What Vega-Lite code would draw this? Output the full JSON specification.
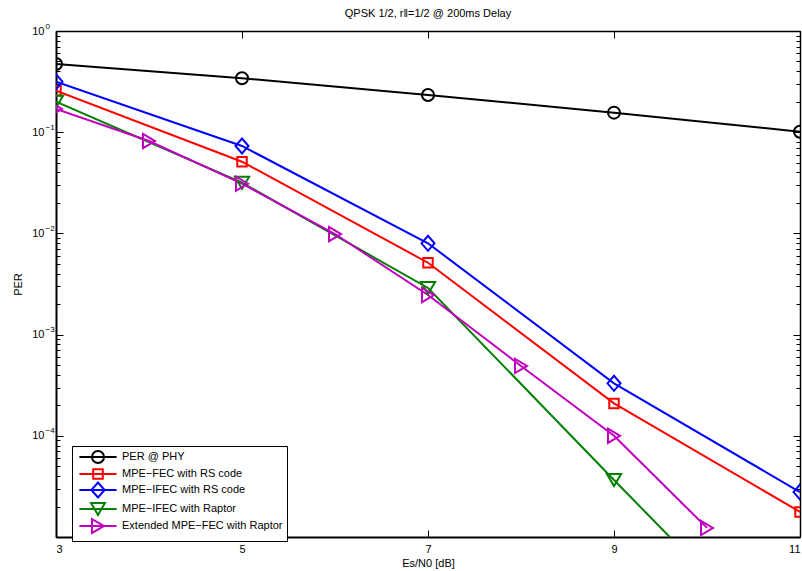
{
  "$schema": "https://vega.github.io/schema/vega-lite/v6.json",
  "width": 744,
  "height": 506,
  "autosize": {"type": "none"},
  "padding": {"left": 56, "top": 31, "right": 2, "bottom": 34},
  "background": "white",
  "config": {
    "view": {"stroke": null},
    "font": "Liberation Sans",
    "axis": {
      "grid": false,
      "domainColor": "black",
      "tickColor": "black",
      "labelColor": "black",
      "titleColor": "black",
      "labelFont": "Liberation Sans",
      "titleFont": "Liberation Sans",
      "labelFontSize": 11,
      "titleFontSize": 11,
      "titleFontWeight": "normal"
    }
  },
  "title": {
    "text": "QPSK 1/2, r\u2016=1/2 @ 200ms Delay",
    "font": "Liberation Sans",
    "fontSize": 11,
    "fontWeight": "normal",
    "color": "black",
    "anchor": "middle",
    "offset": 3
  },
  "data": {
    "values": [
      {"x": 3, "per": 0.472, "series": "PER @ PHY"},
      {"x": 5, "per": 0.341, "series": "PER @ PHY"},
      {"x": 7, "per": 0.233, "series": "PER @ PHY"},
      {"x": 9, "per": 0.156, "series": "PER @ PHY"},
      {"x": 11, "per": 0.101, "series": "PER @ PHY"},
      {"x": 3, "per": 0.257, "series": "MPE\u2212FEC with RS code"},
      {"x": 5, "per": 0.0511, "series": "MPE\u2212FEC with RS code"},
      {"x": 7, "per": 0.00513, "series": "MPE\u2212FEC with RS code"},
      {"x": 9, "per": 0.000209, "series": "MPE\u2212FEC with RS code"},
      {"x": 11, "per": 0.0000177, "series": "MPE\u2212FEC with RS code"},
      {"x": 3, "per": 0.315, "series": "MPE\u2212IFEC with RS code"},
      {"x": 5, "per": 0.0731, "series": "MPE\u2212IFEC with RS code"},
      {"x": 7, "per": 0.00798, "series": "MPE\u2212IFEC with RS code"},
      {"x": 9, "per": 0.00033, "series": "MPE\u2212IFEC with RS code"},
      {"x": 11, "per": 0.0000278, "series": "MPE\u2212IFEC with RS code"},
      {"x": 3, "per": 0.2, "series": "MPE\u2212IFEC with Raptor"},
      {"x": 5, "per": 0.0317, "series": "MPE\u2212IFEC with Raptor"},
      {"x": 7, "per": 0.00289, "series": "MPE\u2212IFEC with Raptor"},
      {"x": 9, "per": 0.0000366, "series": "MPE\u2212IFEC with Raptor"},
      {"x": 10, "per": 0.0000042, "series": "MPE\u2212IFEC with Raptor"},
      {"x": 3, "per": 0.17, "series": "Extended MPE\u2212FEC with Raptor"},
      {"x": 4, "per": 0.0818, "series": "Extended MPE\u2212FEC with Raptor"},
      {"x": 5, "per": 0.031, "series": "Extended MPE\u2212FEC with Raptor"},
      {"x": 6, "per": 0.00986, "series": "Extended MPE\u2212FEC with Raptor"},
      {"x": 7, "per": 0.00246, "series": "Extended MPE\u2212FEC with Raptor"},
      {"x": 8, "per": 0.00049, "series": "Extended MPE\u2212FEC with Raptor"},
      {"x": 9, "per": 0.0001, "series": "Extended MPE\u2212FEC with Raptor"},
      {"x": 10, "per": 0.0000123, "series": "Extended MPE\u2212FEC with Raptor"}
    ]
  },
  "resolve": {"axis": {"x": "independent", "y": "independent"}},
  "layer": [
    {
      "mark": {"type": "line", "strokeWidth": 2, "clip": true},
      "encoding": {
        "x": {
          "field": "x",
          "type": "quantitative",
          "scale": {"domain": [3, 11], "nice": false, "zero": false},
          "axis": {
            "orient": "bottom",
            "title": "Es/N0 [dB]",
            "values": [3, 5, 7, 9, 11],
            "tickSize": -7,
            "domainWidth": 2,
            "labelPadding": 13,
            "titlePadding": 3
          }
        },
        "y": {
          "field": "per",
          "type": "quantitative",
          "scale": {"type": "log", "domain": [0.00001, 1], "nice": false},
          "axis": {
            "orient": "left",
            "title": "PER",
            "values": [0.00001, 0.00002, 0.00003, 0.00004, 0.00005, 0.00006, 0.00007, 0.00008, 0.00009,
                       0.0001, 0.0002, 0.0003, 0.0004, 0.0005, 0.0006, 0.0007, 0.0008, 0.0009,
                       0.001, 0.002, 0.003, 0.004, 0.005, 0.006, 0.007, 0.008, 0.009,
                       0.01, 0.02, 0.03, 0.04, 0.05, 0.06, 0.07, 0.08, 0.09,
                       0.1, 0.2, 0.3, 0.4, 0.5, 0.6, 0.7, 0.8, 0.9, 1],
            "labelExpr": "abs(log(datum.value)/LN10 - round(log(datum.value)/LN10)) < 1e-6 && datum.value > 0.00002 ? '10' : ''",
            "tickSize": {"condition": {"test": "abs(log(datum.value)/LN10 - round(log(datum.value)/LN10)) < 1e-6", "value": -7}, "value": -4},
            "domainWidth": 2,
            "labelPadding": 19,
            "labelOverlap": false,
            "titlePadding": 8
          }
        },
        "color": {
          "field": "series",
          "type": "nominal",
          "scale": {
            "domain": ["PER @ PHY", "MPE\u2212FEC with RS code", "MPE\u2212IFEC with RS code", "MPE\u2212IFEC with Raptor", "Extended MPE\u2212FEC with Raptor"],
            "range": ["#000000", "#ff0000", "#0000ff", "#008000", "#bf00bf"]
          },
          "legend": {
            "title": null,
            "orient": "none",
            "legendX": 16,
            "legendY": 415,
            "direction": "vertical",
            "strokeColor": "black",
            "fillColor": "white",
            "padding": 4,
            "symbolSize": 144,
            "symbolStrokeWidth": 2,
            "symbolOffset": 15,
            "labelOffset": 17,
            "labelFont": "Liberation Sans",
            "labelFontSize": 11,
            "labelColor": "black",
            "labelLimit": 0,
            "rowPadding": -5,
            "encode": {
              "symbols": {
                "update": {
                  "shape": {"signal": "['M-3.1,0H3.1M-1,0A1,1 0 0,1 0,-1A1,1 0 0,1 1,0A1,1 0 0,1 0,1A1,1 0 0,1 -1,0Z', 'M-3.1,0H3.1M-0.8,-0.8H0.8V0.8H-0.8Z', 'M-3.1,0H3.1M-1.1,0L0,-1.25L1.1,0L0,1.25Z', 'M-3.1,0H3.1M-1.15,-1H1.15L0,1Z', 'M-3.1,0H3.1M-1,-1.15L1,0L-1,1.15Z'][datum.index]"},
                  "size": {"value": 144},
                  "strokeWidth": {"value": 2},
                  "fill": {"value": "transparent"}
                }
              }
            }
          }
        }
      }
    },
    {
      "transform": [{"filter": {"field": "series", "equal": "PER @ PHY"}}],
      "mark": {"type": "point", "filled": false, "strokeWidth": 2, "opacity": 1, "size": 225, "clip": true, "color": "#000000",
               "shape": "M-0.8,0A0.8,0.8 0 1,1 0.8,0A0.8,0.8 0 1,1 -0.8,0Z"},
      "encoding": {
        "x": {
          "field": "x",
          "type": "quantitative",
          "axis": {
            "orient": "top",
            "title": null,
            "labels": false,
            "values": [3, 5, 7, 9, 11],
            "tickSize": -7,
            "domainWidth": 1.5
          }
        },
        "y": {
          "field": "per",
          "type": "quantitative",
          "axis": {
            "orient": "right",
            "title": null,
            "labels": false,
            "values": [0.00001, 0.00002, 0.00003, 0.00004, 0.00005, 0.00006, 0.00007, 0.00008, 0.00009,
                       0.0001, 0.0002, 0.0003, 0.0004, 0.0005, 0.0006, 0.0007, 0.0008, 0.0009,
                       0.001, 0.002, 0.003, 0.004, 0.005, 0.006, 0.007, 0.008, 0.009,
                       0.01, 0.02, 0.03, 0.04, 0.05, 0.06, 0.07, 0.08, 0.09,
                       0.1, 0.2, 0.3, 0.4, 0.5, 0.6, 0.7, 0.8, 0.9, 1],
            "tickSize": {"condition": {"test": "abs(log(datum.value)/LN10 - round(log(datum.value)/LN10)) < 1e-6", "value": -7}, "value": -4},
            "domainWidth": 1.5
          }
        }
      }
    },
    {
      "transform": [{"filter": {"field": "series", "equal": "MPE\u2212FEC with RS code"}}],
      "mark": {"type": "point", "filled": false, "strokeWidth": 2, "opacity": 1, "size": 225, "clip": true, "color": "#ff0000",
               "shape": "M-0.63,-0.63H0.63V0.63H-0.63Z"},
      "encoding": {
        "x": {"field": "x", "type": "quantitative", "axis": null},
        "y": {"field": "per", "type": "quantitative", "axis": null}
      }
    },
    {
      "transform": [{"filter": {"field": "series", "equal": "MPE\u2212IFEC with RS code"}}],
      "mark": {"type": "point", "filled": false, "strokeWidth": 2, "opacity": 1, "size": 225, "clip": true, "color": "#0000ff",
               "shape": "M-0.87,0L0,-1L0.87,0L0,1Z"},
      "encoding": {
        "x": {"field": "x", "type": "quantitative", "axis": null},
        "y": {"field": "per", "type": "quantitative", "axis": null}
      }
    },
    {
      "transform": [{"filter": {"field": "series", "equal": "MPE\u2212IFEC with Raptor"}}],
      "mark": {"type": "point", "filled": false, "strokeWidth": 2, "opacity": 1, "size": 225, "clip": true, "color": "#008000",
               "shape": "M-0.95,-0.8H0.95L0,0.8Z"},
      "encoding": {
        "x": {"field": "x", "type": "quantitative", "axis": null},
        "y": {"field": "per", "type": "quantitative", "axis": null}
      }
    },
    {
      "transform": [{"filter": {"field": "series", "equal": "Extended MPE\u2212FEC with Raptor"}}],
      "mark": {"type": "point", "filled": false, "strokeWidth": 2, "opacity": 1, "size": 225, "clip": true, "color": "#bf00bf",
               "shape": "M-0.8,-0.95L0.8,0L-0.8,0.95Z"},
      "encoding": {
        "x": {"field": "x", "type": "quantitative", "axis": null},
        "y": {"field": "per", "type": "quantitative", "axis": null}
      }
    },
    {
      "mark": {"type": "point", "opacity": 0},
      "encoding": {
        "x": {"field": "x", "type": "quantitative", "axis": null},
        "y": {
          "field": "per",
          "type": "quantitative",
          "axis": {
            "orient": "left",
            "title": null,
            "domain": false,
            "ticks": false,
            "values": [1, 0.1, 0.01, 0.001, 0.0001],
            "labelExpr": "['0','\u22121','\u22122','\u22123','\u22124'][round(-log(datum.value)/LN10)]",
            "labelAlign": "left",
            "labelFontSize": 8,
            "labelPadding": 11,
            "labelOffset": -5,
            "labelOverlap": false
          }
        }
      }
    }
  ]
}
